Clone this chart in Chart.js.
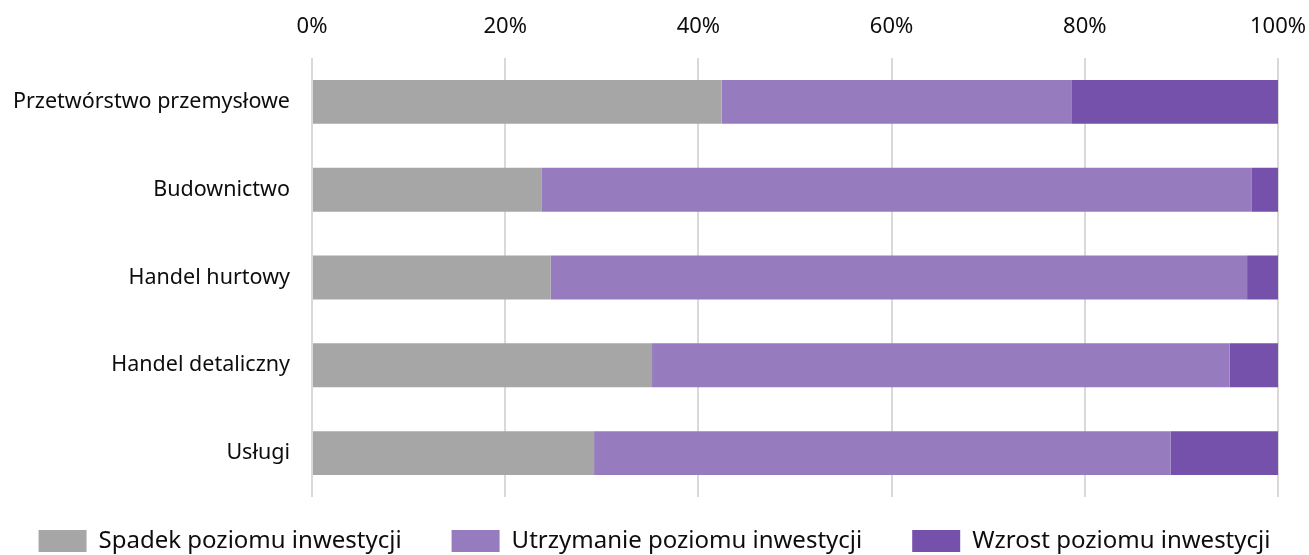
<!DOCTYPE html>
<html>
<head>
<meta charset="utf-8">
<script src="https://cdn.jsdelivr.net/npm/chart.js@4/dist/chart.umd.min.js"></script>
<style>
  html, body { margin: 0; padding: 0; background: #fff; }
  #wrap { width: 1309px; height: 555px; }
</style>
</head>
<body>
<div id="wrap"><canvas id="chart" width="1309" height="555"></canvas></div>
<script>
// ── data ──
const categories = [
  'Przetwórstwo przemysłowe',
  'Budownictwo',
  'Handel hurtowy',
  'Handel detaliczny',
  'Usługi'
];
const seriesNames = [
  'Spadek poziomu inwestycji',
  'Utrzymanie poziomu inwestycji',
  'Wzrost poziomu inwestycji'
];
const spadek     = [42.4, 23.8, 24.7, 35.2, 29.2];
const utrzymanie = [36.2, 73.5, 72.1, 59.8, 59.7];
const wzrost     = [21.4,  2.7,  3.2,  5.0, 11.1];
const xTicks = [0, 20, 40, 60, 80, 100];

const colors = ['#a6a6a6', '#967cbf', '#7551ac'];
const FONT = "'Noto Sans', sans-serif";
const TEXT = '#0d0d0d';

// legend: one row, fixed height, centred on the canvas and drawn a bit higher
const legendFit = {
  id: 'legendFit',
  afterInit(chart) {
    const lg = chart.legend;
    const fit = lg.fit.bind(lg);
    lg.fit = function () {
      const mw = this.maxWidth;
      this.maxWidth = 3000;   // keep all items in one row
      fit();
      this.maxWidth = mw;
      this.width = Math.min(this.width, mw);
      this.height = 58;
    };
  },
  afterLayout(chart) {
    // the legend clips to its own box, so only widen it / raise its top
    const lg = chart.legend;
    lg.left = -100;
    lg.right = chart.width + 100;
    lg.top -= 18;
  }
};

function initChart() {
  const ctx = document.getElementById('chart');
  new Chart(ctx, {
    type: 'bar',
    data: {
      labels: categories,
      datasets: [spadek, utrzymanie, wzrost].map((vals, i) => ({
        label: seriesNames[i],
        data: vals,
        backgroundColor: colors[i],
        borderWidth: 0,
        categoryPercentage: 1,
        barPercentage: 0.5
      }))
    },
    options: {
      indexAxis: 'y',
      responsive: false,
      animation: false,
      layout: { padding: { left: 10, right: 31, top: 0, bottom: 0 } },
      plugins: {
        tooltip: { enabled: false },
        legend: {
          position: 'bottom',
          labels: {
            font: { family: FONT, size: 24 },
            color: TEXT,
            boxWidth: 48,
            boxHeight: 22,
            padding: 50
          }
        }
      },
      scales: {
        x: {
          position: 'top',
          stacked: true,
          min: 0,
          max: 100,
          afterBuildTicks: s => { s.ticks = xTicks.map(v => ({ value: v })); },
          afterFit: s => { s.height = 58; s.paddingLeft = 0; s.paddingRight = 0; },
          grid: { color: '#d9d9d9', lineWidth: 2, drawTicks: false },
          border: { display: false },
          ticks: {
            padding: 18,
            color: TEXT,
            font: { family: FONT, size: 22 },
            callback: v => v + '%'
          }
        },
        y: {
          stacked: true,
          afterFit: s => { s.width = 302; },
          grid: { display: false, drawTicks: false },
          border: { display: false },
          ticks: {
            padding: 22,
            color: TEXT,
            font: { family: FONT, size: 21.5 }
          }
        }
      }
    },
    plugins: [legendFit]
  });
}

initChart();
</script>
</body>
</html>
